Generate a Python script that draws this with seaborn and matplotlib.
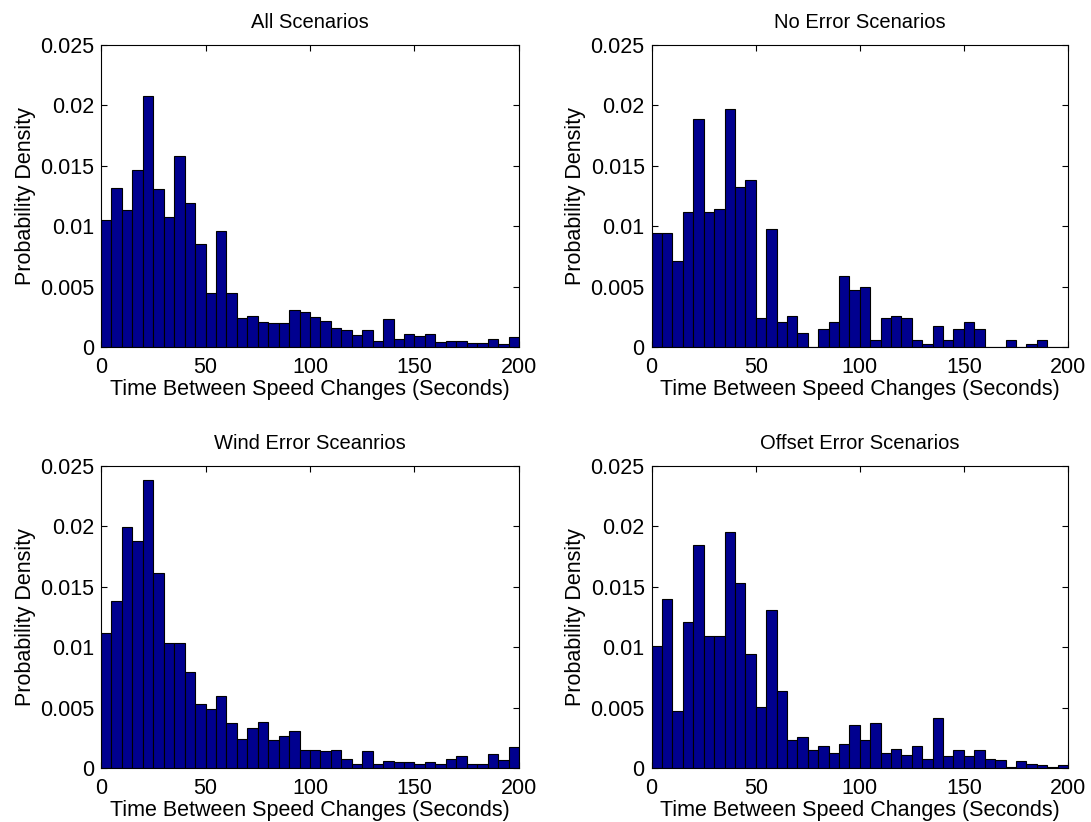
import numpy as np
import pandas as pd
import matplotlib
matplotlib.use("Agg")
import matplotlib.pyplot as plt
import seaborn as sns

bin_edges = list(range(0, 205, 5))
titles = ["All Scenarios", "No Error Scenarios", "Wind Error Sceanrios", "Offset Error Scenarios"]

all_scen = [0.01048, 0.01314, 0.01137, 0.01469, 0.02074, 0.01305, 0.01079, 0.01582, 0.01192, 0.00852,
            0.00445, 0.00957, 0.00445, 0.00238, 0.00260, 0.00210, 0.00196, 0.00196, 0.00310, 0.00293,
            0.00246, 0.00218, 0.00158, 0.00138, 0.00102, 0.00138, 0.00050, 0.00230, 0.00066, 0.00108,
            0.00094, 0.00105, 0.00041, 0.00050, 0.00050, 0.00033, 0.00033, 0.00066, 0.00028, 0.00083]
no_error = [0.00943, 0.00943, 0.00708, 0.01120, 0.01883, 0.01120, 0.01142, 0.01969, 0.01322, 0.01385,
            0.00238, 0.00973, 0.00205, 0.00260, 0.00116, 0.0, 0.00149, 0.00205, 0.00586, 0.00473,
            0.00498, 0.00058, 0.00238, 0.00260, 0.00238, 0.00058, 0.00028, 0.00174, 0.00058, 0.00149,
            0.00205, 0.00149, 0.0, 0.0, 0.00058, 0.0, 0.00028, 0.00058, 0.0, 0.0]
wind_error = [0.01116, 0.01386, 0.01998, 0.01877, 0.02381, 0.01612, 0.01031, 0.01031, 0.00797, 0.00532,
              0.00491, 0.00595, 0.00369, 0.00240, 0.00328, 0.00378, 0.00234, 0.00265, 0.00303, 0.00149,
              0.00149, 0.00143, 0.00149, 0.00077, 0.00036, 0.00143, 0.00036, 0.00061, 0.00052, 0.00052,
              0.00036, 0.00052, 0.00036, 0.00077, 0.00102, 0.00036, 0.00036, 0.00116, 0.00063, 0.00174]
offset_error = [0.01014, 0.01403, 0.00474, 0.01210, 0.01847, 0.01089, 0.01089, 0.01957, 0.01533, 0.00943,
                0.00504, 0.01307, 0.00637, 0.00232, 0.00256, 0.00152, 0.00182, 0.00127, 0.00201, 0.00353,
                0.00232, 0.00369, 0.00127, 0.00160, 0.00110, 0.00182, 0.00077, 0.00416, 0.00102, 0.00152,
                0.00102, 0.00152, 0.00077, 0.00063, 0.00011, 0.00055, 0.00036, 0.00028, 0.00011, 0.00028]

x_ticks = [0, 50, 100, 150, 200]
y_ticks = [0, 0.005, 0.01, 0.015, 0.02, 0.025]
y_tick_labels = ["0", "0.005", "0.01", "0.015", "0.02", "0.025"]

sns.set_style("white")
plt.rcParams['font.family'] = ['Liberation Sans', 'DejaVu Sans']
plt.rcParams['text.color'] = 'black'
plt.rcParams['axes.labelcolor'] = 'black'
plt.rcParams['xtick.color'] = 'black'
plt.rcParams['ytick.color'] = 'black'

fig = plt.figure(figsize=(10.91, 8.22), dpi=100)
positions = [
    [0.0926, 0.5779, 0.3831, 0.3674],
    [0.5973, 0.5779, 0.3816, 0.3674],
    [0.0926, 0.0657, 0.3831, 0.3674],
    [0.5973, 0.0657, 0.3816, 0.3674],
]
series = [all_scen, no_error, wind_error, offset_error]
centers = [(a + b) / 2 for a, b in zip(bin_edges[:-1], bin_edges[1:])]

for pos, vals, title in zip(positions, series, titles):
    ax = fig.add_axes(pos)
    df = pd.DataFrame({"t": centers, "density": vals})
    sns.histplot(data=df, x="t", weights="density", bins=bin_edges, stat="count",
                 color="#00008F", alpha=1.0, edgecolor="black", linewidth=0.8, ax=ax)
    ax.set_xlim(0, 200)
    ax.set_ylim(0, 0.025)
    ax.set_xticks(x_ticks)
    ax.set_xticklabels([str(t) for t in x_ticks])
    ax.set_yticks(y_ticks)
    ax.set_yticklabels(y_tick_labels)
    ax.tick_params(direction="in", length=4, width=0.8, labelsize=15.5,
                   top=True, right=True, bottom=True, left=True,
                   colors="black", labelcolor="black")
    ax.tick_params(axis="x", pad=7)
    ax.tick_params(axis="y", pad=5)
    for s in ax.spines.values():
        s.set_visible(True)
        s.set_color("black")
        s.set_linewidth(0.8)
    ax.set_title(title, fontsize=14.5, pad=12, color="black")
    ax.set_xlabel("Time Between Speed Changes (Seconds)", fontsize=15.5, labelpad=1, color="black")
    ax.set_ylabel("Probability Density", fontsize=15.5, labelpad=3, color="black")

fig.savefig("out.png", dpi=100, facecolor="white")
